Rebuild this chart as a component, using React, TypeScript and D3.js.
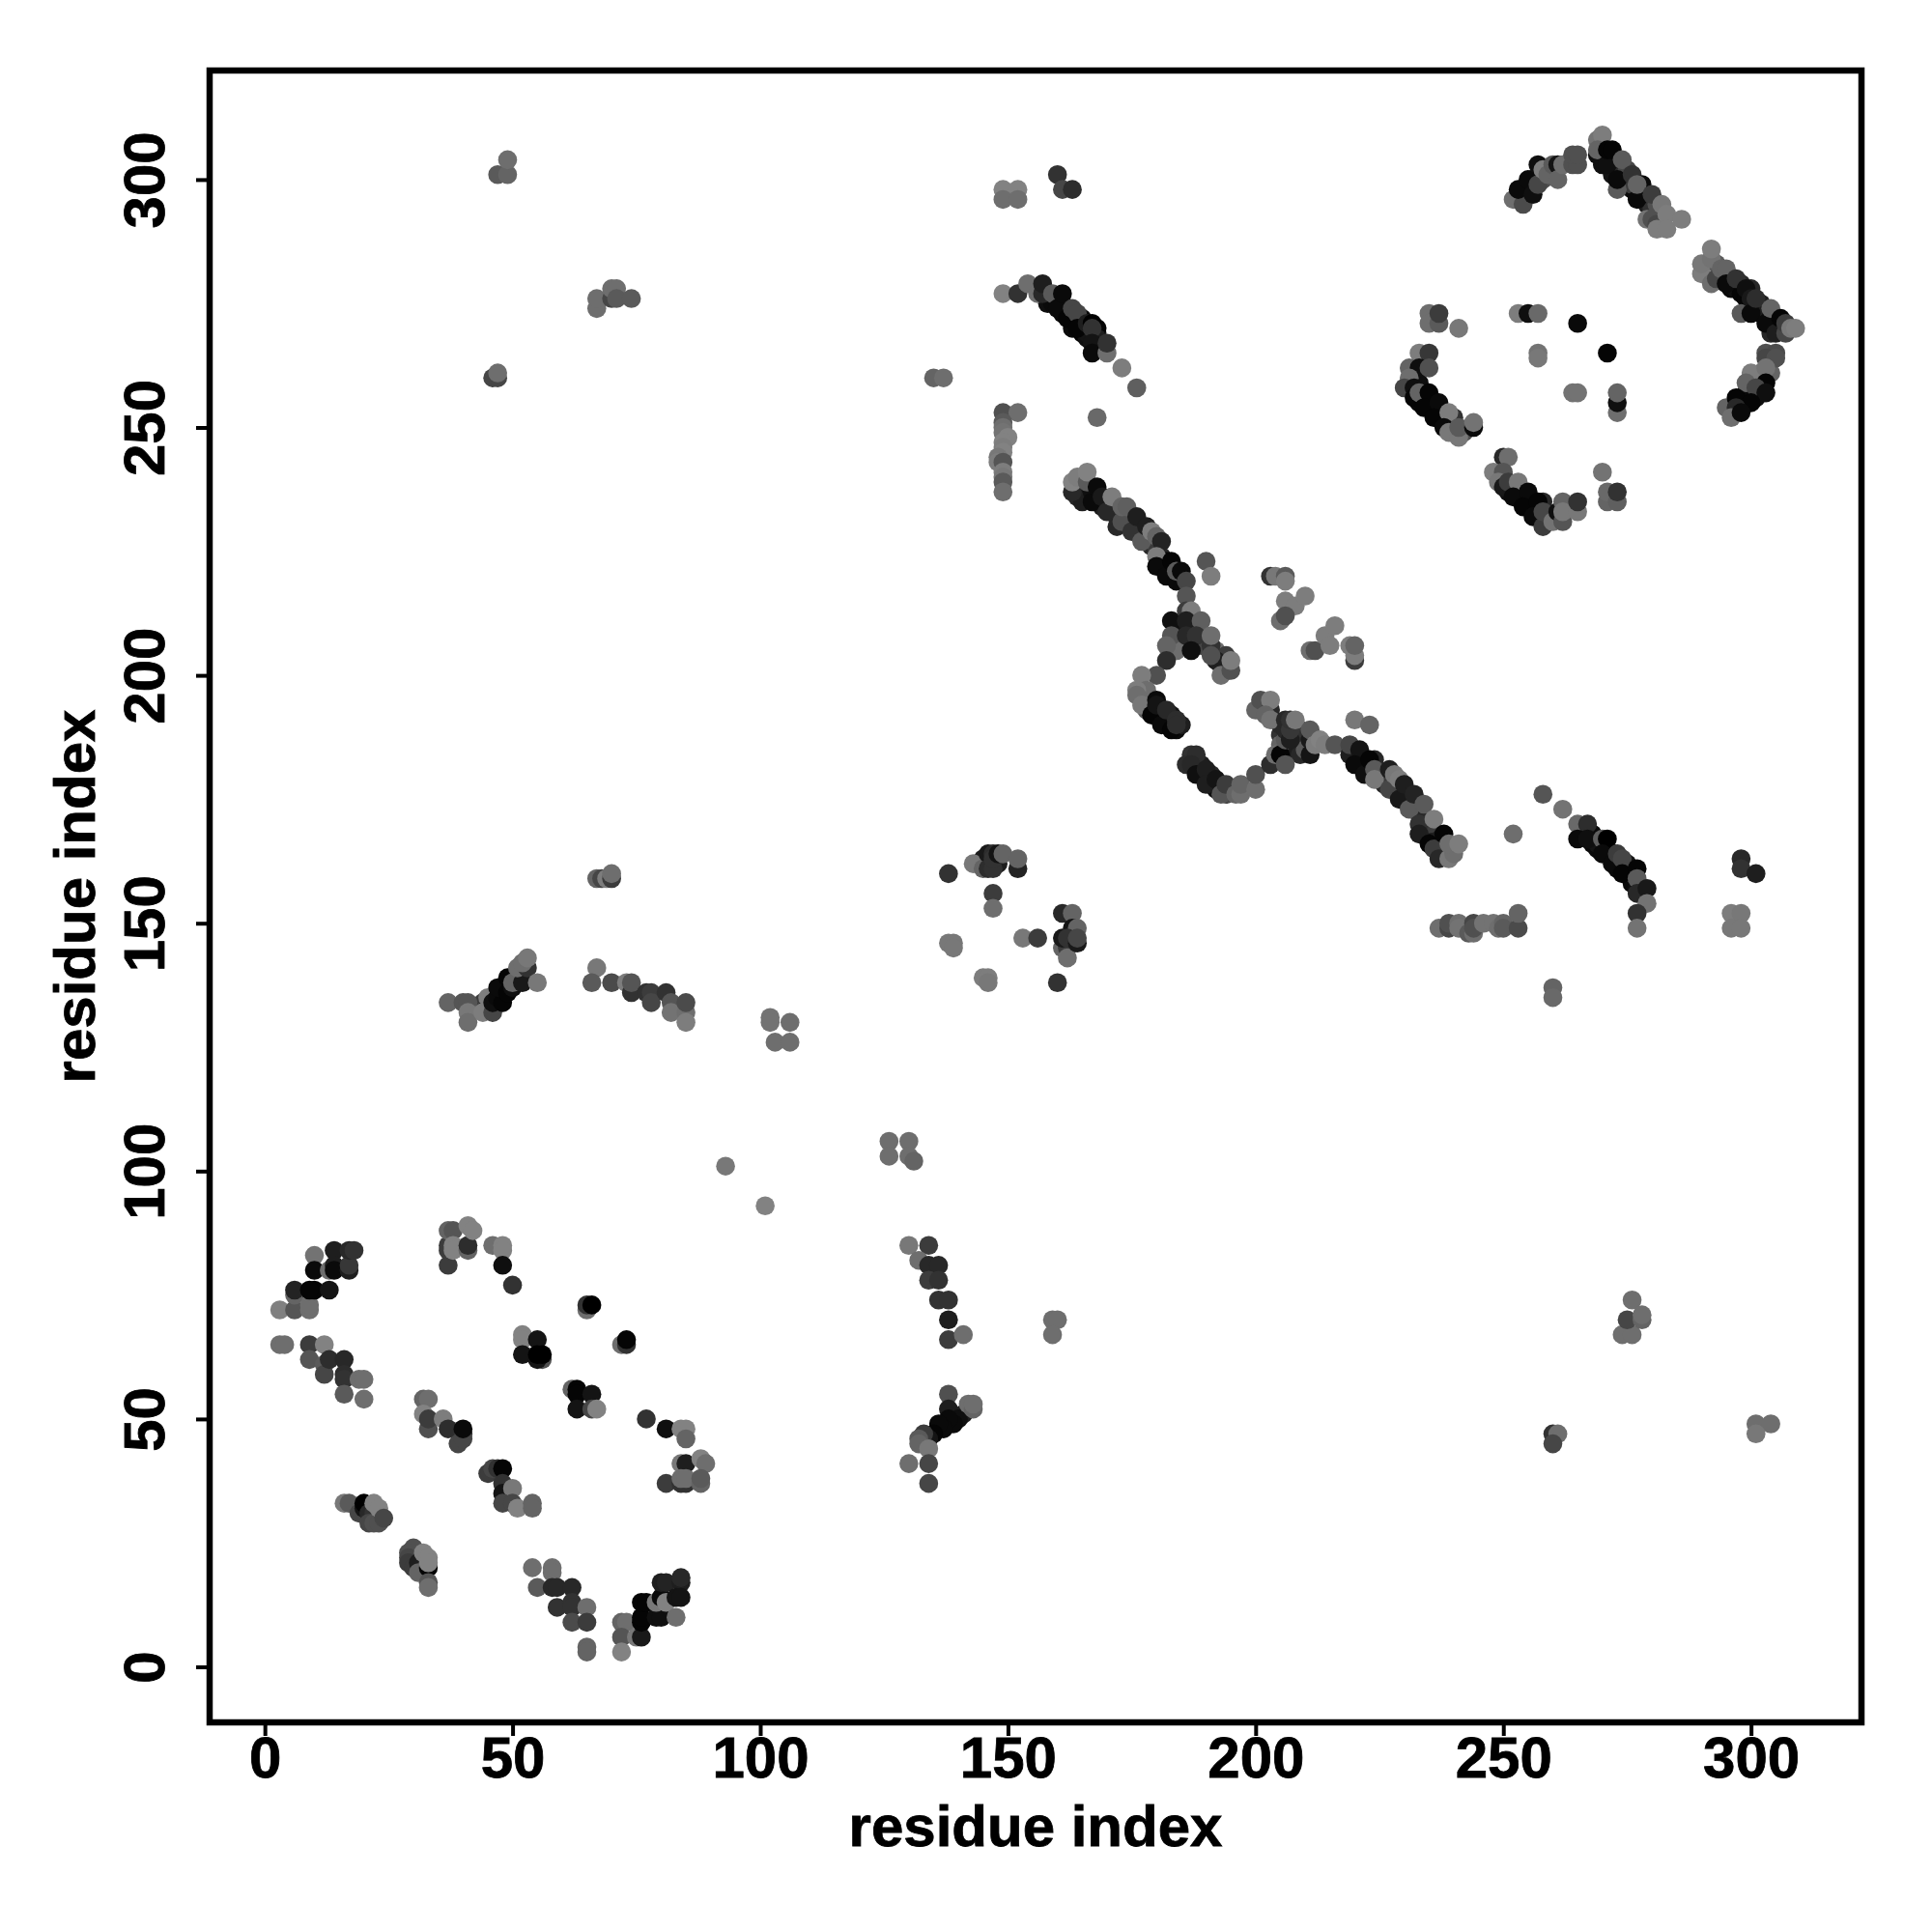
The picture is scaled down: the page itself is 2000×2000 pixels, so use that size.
import React, { useEffect, useRef } from 'react';
import * as d3 from 'd3';

type Contact = [number, number, number]; // residue i, residue j, level (0 = darkest)

const tickValues = [0, 50, 100, 150, 200, 250, 300];
const axisLabel = 'residue index';

// dense runs along the long bands, these sit underneath everything else
const bandTopRight: Contact[] = [
  [270,305,10],[270,303,15],[272,303,10],[272,301,20],[274,302,40],[274,300,20],[275,299,15],[275,302,70],[276,298,10],[276,299,60],[278,296,15],[278,297,40],[279,295,30],[279,297,35],[280,294,50],[281,293,60],[282,292,90],[281,295,80],
  [293,283,90],[294,280,40],[295,281,70],[296,278,10],[296,280,30],[297,278,15],[298,279,40],[298,277,5],[299,276,5],[300,278,40],[301,274,10],[302,275,30],[302,273,5],[303,273,30],[304,272,15],[305,271,20],[305,272,60],[306,270,20],[304,269,40],
  [299,257,20],[299,256,10],[298,255,10],[301,256,15],[302,258,40],[301,260,90],[302,261,100],[304,261,100],
  [254,298,10],[255,297,15],[253,296,60],[256,299,30],[257,301,40],[258,300,80],
];
const bandBarrel: Contact[] = [
  [233,259,15],[233,255,10],[235,255,5],[236,254,15],[237,252,10],[238,253,5],[239,251,15],[240,250,20],[240,252,50],[242,249,80],
  [251,237,15],[252,238,30],[253,236,10],[254,237,20],[255,235,10],[256,235,15],[256,234,5],[257,233,10],[258,235,40],[259,232,60],
];
const bandFirst: Contact[] = [
  [158,275,15],[159,275,10],[160,276,20],[161,275,5],[161,273,10],[162,274,15],[163,272,5],[163,270,10],[165,272,10],[165,269,5],[166,268,15],[166,269,20],[168,269,30],[168,270,5],[168,268,30],
  [164,236,40],[165,238,20],[165,235,30],[167,237,15],[168,236,20],[169,234,30],[170,235,40],[171,233,30],[172,232,50],[172,230,40],[174,231,40],[175,232,60],[176,229,50],[177,230,40],[178,228,30],[179,226,40],[180,226,60],[181,224,40],[181,222,10],[183,221,5],[185,219,5],[182,223,10],
  [184,209,20],[185,207,60],[185,206,30],[186,206,40],[187,209,30],[188,206,50],[189,208,40],[189,206,70],[190,207,70],[192,205,110],[193,202,100],[194,204,60],[194,202,80],[184,207,70],
  [181,192,15],[182,191,5],[183,190,10],[183,192,20],[184,189,10],[185,190,30],[178,195,70],[179,194,60],[178,193,90],
];
const bandSecond: Contact[] = [
  [189,182,30],[189,180,20],[191,178,20],[191,180,40],[193,178,50],[194,176,70],[192,177,15],
  [205,188,50],[205,190,40],[206,186,40],[207,185,70],[208,188,40],[208,185,30],[209,189,60],[209,187,50],[205,186,100],[209,184,40],[210,185,90],
  [220,184,20],[222,183,30],[223,181,10],[224,183,40],[225,180,40],[226,180,30],[226,178,40],[227,179,60],[228,177,60],[229,176,30],[230,176,60],[231,175,50],[232,173,40],[233,172,60],[234,171,40],[234,169,20],[235,169,30],[236,168,20],[236,166,20],[237,167,30],[237,165,10],[235,170,60],
  [268,168,10],[268,166,10],[269,165,10],[269,166,20],[271,165,15],[272,164,40],[273,161,10],[275,162,20],[275,160,10],[276,158,10],[276,160,40],[277,157,15],[278,157,20],
  [44,134,60],[45,133,30],[46,135,10],[47,134,10],[48,136,10],[48,137,10],[49,138,20],[50,139,15],[51,139,30],[51,140,70],[52,140,60],
  [145,163,30],[145,162,60],[148,162,30],
];

const nTermHelix: Contact[] = [
  [3,72,128],[6,72,85],[6,75,100],[6,76,35],[9,72,110],[9,73,110],[10,83,115],[10,80,10],[10,76,5],[9,76,5],[13,76,20],[13,80,110],
  [14,84,30],[14,81,30],[14,80,10],[17,80,30],[17,81,55],[17,84,40],[18,84,50],
  [3,65,110],[4,65,110],[9,65,60],[12,65,130],[9,62,85],[12,61,90],[12,59,70],[13,62,45],[16,62,40],[16,59,45],[16,58,50],[16,55,90],[19,58,110],[20,58,110],[20,54,110],
];
const upperLeftPatch: Contact[] = [
  [37,81,60],[37,85,60],[37,84,60],[37,88,100],[38,88,85],[38,85,130],[38,84,130],[41,84,100],[41,85,45],[41,89,130],[42,88,130],
  [46,85,110],[48,85,130],[48,84,130],[48,81,15],[50,77,50],
  [65,72,110],[65,73,50],[66,73,0],[52,67,130],[52,66,130],[55,66,20],[52,63,20],[56,62,80],[55,62,20],[55,63,0],[56,63,0],
  [72,65,110],[73,65,50],[73,66,5],
  [62,56,100],[63,56,5],[63,55,5],[66,55,20],[63,52,20],[66,52,70],[67,52,130],
  [77,50,50],[81,48,15],[84,48,130],[85,48,130],[85,46,100],
  [84,41,120],[85,41,30],[88,42,130],[89,41,110],[81,37,60],[84,37,50],[85,37,50],[84,38,110],[85,38,110],[88,37,100],[88,38,90],
];
const middleStrand: Contact[] = [
  [32,54,100],[33,54,110],[32,51,130],[33,48,80],[33,50,60],[36,50,125],[37,48,45],[39,45,70],[40,47,50],[40,46,70],[40,48,10],
  [45,39,60],[46,40,70],[47,40,50],[48,40,5],[48,37,50],[48,35,20],[50,36,120],[48,33,70],[50,33,70],[51,32,130],[54,33,100],[54,32,100],
];
const lowerStrands: Contact[] = [
  [16,33,120],[17,33,90],[19,31,70],[20,32,20],[20,33,0],[21,31,40],[22,31,50],[21,29,70],[22,29,80],[23,29,80],[22,33,130],[23,32,130],[24,30,70],
  [30,24,80],[29,23,80],[29,22,70],[29,21,60],[30,20,60],[31,21,30],[31,19,100],[33,20,5],[32,23,130],[33,22,130],[33,21,130],[33,17,85],[33,16,110],
  [54,20,110],[58,20,110],[58,19,110],[55,16,90],[58,16,40],[59,16,40],[62,16,40],[59,12,50],[62,13,50],[62,12,50],[65,12,110],[62,9,75],[65,9,60],[65,4,100],[65,3,100],
  [72,9,100],[73,9,110],[72,6,85],[72,3,130],[75,6,120],[76,6,25],[76,9,5],[76,10,5],[76,13,5],[77,13,5],[79,10,15],[80,10,15],[79,13,120],[80,14,10],[81,13,130],
  [80,17,30],[81,17,35],[84,17,30],[84,18,40],[83,14,20],[84,14,20],[83,10,110],
];
const leftIslands: Contact[] = [
  [47,301,90],[49,301,100],[49,304,110],[46,260,70],[47,260,70],[47,261,110],
  [67,274,110],[67,276,110],[70,276,70],[70,278,110],[71,278,110],[71,276,90],[74,276,90],
  [67,159,100],[68,159,70],[69,159,125],[70,159,60],[70,160,110],
  [37,134,100],[40,134,85],[41,134,85],[41,132,120],[41,130,110],[44,132,125],[45,135,125],[46,132,70],[46,134,15],[47,135,10],[48,134,5],[47,137,10],[49,136,5],[49,139,5],
  [50,137,15],[50,138,100],[52,138,25],[51,141,110],[53,141,50],[52,142,110],[53,143,120],[55,138,120],
  [67,141,120],[66,138,90],[70,138,75],[73,138,125],[74,136,50],[74,138,85],[77,136,50],[78,136,60],[78,134,70],[81,136,50],[82,134,85],[82,132,115],[85,132,110],[85,134,75],[85,130,125],
  [102,131,115],[102,130,115],[106,130,110],[103,126,110],[106,126,110],[93,101,120],[101,93,130],
  [126,106,110],[130,106,110],[126,103,110],[130,103,110],[131,102,100],
];
const centralColumn: Contact[] = [
  [130,85,120],[134,85,60],[132,82,110],[134,81,40],[136,81,40],[134,78,60],[136,78,50],[136,74,50],[138,74,50],[138,70,30],[138,66,60],[141,67,110],
  [159,70,110],[160,70,110],[159,67,110],
  [138,55,80],[138,52,30],[141,51,30],[140,50,15],[139,49,10],[138,50,10],[137,48,10],[136,49,10],[135,47,5],[134,46,20],[133,47,60],[132,46,90],[132,45,100],[134,44,120],
  [130,41,110],[134,41,70],[134,37,70],[142,53,110],[143,52,100],[143,53,110],
  [135,260,100],[137,260,110],
];
const topMiddle: Contact[] = [
  [149,298,130],[152,298,130],[149,296,110],[152,296,110],[160,301,50],[161,298,70],[163,298,45],
  [149,277,130],[152,277,50],[154,279,110],[156,277,110],[157,277,40],[157,279,30],[159,277,90],[160,274,10],[162,272,5],[161,277,10],[163,274,70],[164,273,70],
  [164,270,5],[166,271,30],[167,271,0],[167,270,50],[167,267,20],[167,265,10],[170,265,110],[170,267,50],[173,262,125],[176,258,95],[168,252,105],
  [149,253,80],[152,253,110],[149,251,90],[149,250,110],[149,249,115],[150,248,130],[149,247,130],[149,246,125],[149,245,130],[148,244,120],[148,243,125],[149,243,85],[149,241,125],[149,240,120],[149,239,90],[149,237,110],
];
const centerLoop: Contact[] = [
  [138,160,50],[143,162,120],[145,161,100],[146,164,25],[147,164,45],[146,161,45],[147,161,50],[147,163,50],[148,164,20],[149,164,100],[152,161,35],[152,163,100],[147,156,60],[147,153,110],
  [161,152,40],[163,152,100],[163,149,20],[164,149,100],[161,145,100],[162,145,60],[162,143,110],[161,147,25],[162,147,50],[164,146,25],[164,147,70],
  [153,147,120],[156,147,60],[138,146,120],[139,146,120],[139,145,120],[145,139,125],[146,139,125],[146,138,120],[160,138,50],
];
const firstDiagonal: Contact[] = [
  [163,237,40],[163,239,130],[164,240,125],[166,239,90],[166,241,130],[167,235,10],[168,238,10],[169,236,25],[170,233,40],[171,236,125],[173,231,80],[173,234,100],[174,234,95],
  [175,229,50],[176,232,30],[177,227,90],[178,230,30],[179,229,125],[180,228,100],[181,227,35],[180,224,125],[180,222,10],[182,220,10],[183,223,5],[184,219,10],[184,221,90],[185,221,10],[186,219,70],
  [190,223,85],[191,220,125],
  [183,211,15],[186,216,85],[186,213,60],[187,213,125],[186,211,30],[189,211,95],[183,205,5],[184,205,110],[183,208,85],[186,208,40],[188,208,50],[187,205,15],[191,206,50],[191,208,110],
  [182,206,100],[182,203,45],[180,200,80],[177,200,125],[178,197,110],[176,197,125],[176,196,110],[177,194,120],[179,192,5],[180,195,10],[180,194,20],[181,190,10],[183,189,5],[182,193,40],[184,191,45],[184,190,45],
  [192,203,30],[191,204,80],[193,200,110],[195,201,80],[195,203,125],
];
const outerIslands: Contact[] = [
  [203,220,50],[204,220,120],[206,220,90],[206,219,125],[206,215,125],[208,214,125],[210,216,125],[205,211,110],[206,212,80],
  [211,205,110],[212,205,80],[214,208,125],[215,206,125],[216,210,125],[219,206,125],[220,203,60],[220,204,125],[220,206,100],
];
const secondDiagonal: Contact[] = [
  [187,184,50],[188,184,45],[186,182,45],[187,182,40],[188,180,15],[190,181,30],[190,178,30],[192,179,20],[193,176,85],[194,178,60],[196,176,100],[197,176,110],[197,178,100],
  [200,177,110],[200,180,80],[203,182,45],[204,184,110],[205,184,5],[206,182,85],
  [200,193,100],[201,195,80],[203,193,40],[203,195,125],[202,192,100],[203,191,115],[206,187,90],[206,189,40],[206,191,40],[207,187,30],[207,189,55],[207,191,50],[208,191,120],
  [211,184,20],[211,187,25],[211,189,90],[212,186,125],[213,187,130],[214,186,125],[216,186,85],
  [220,191,120],[223,190,100],[219,184,30],[219,186,70],[221,185,20],[220,182,10],[222,180,15],[223,183,5],[224,181,90],[224,179,120],[227,177,70],[227,181,30],[228,180,120],[229,179,125],
  [229,175,25],[230,178,30],[231,173,90],[232,176,35],[233,170,50],[233,168,30],[234,174,90],[235,166,5],[236,165,60],[236,171,125],[238,168,5],[237,163,40],[239,163,120],[240,164,110],[239,166,110],[241,166,125],
];
const rightArc: Contact[] = [
  [258,176,85],[262,173,115],[252,168,110],[265,170,105],[267,170,45],[265,167,10],[267,167,15],[270,167,95],[271,167,0],[270,164,10],[272,162,10],[273,164,60],[274,163,70],[274,160,5],
  [277,161,5],[277,159,90],[277,156,40],[279,157,25],[279,154,115],[277,152,50],[277,149,115],
  [237,149,110],[239,149,70],[239,150,80],[241,150,110],[241,149,115],[243,148,90],[244,148,110],[244,150,70],[244,149,80],[246,150,115],[248,150,115],[249,149,110],[250,150,100],[250,149,90],[253,149,75],[253,152,100],
  [260,137,100],[260,135,105],[296,152,125],[296,149,120],[298,152,120],[298,149,120],[298,163,40],[298,161,50],[301,160,30],
  [260,47,50],[261,47,110],[260,45,70],[301,49,110],[304,49,110],[301,47,120],
  [274,67,110],[276,67,110],[276,74,110],[275,70,70],[278,70,100],[278,71,110],
];
const barrelLeft: Contact[] = [
  [235,273,110],[235,271,110],[237,271,90],[237,273,60],[241,270,120],[253,273,125],[255,273,15],[257,273,105],[265,271,10],[271,265,5],[257,265,115],[257,264,120],[264,257,115],[265,257,115],
  [273,253,110],[273,255,15],[273,257,100],
  [233,265,125],[235,265,55],[231,262,100],[233,262,15],[235,262,80],[231,260,110],[230,258,70],[232,258,15],[232,256,5],[233,257,100],[235,257,5],[234,254,5],[237,255,10],[236,252,5],[239,253,125],
  [238,250,10],[239,249,120],[241,248,120],[241,250,90],[244,250,10],[244,251,115],
];
const barrelLower: Contact[] = [
  [250,244,40],[251,244,110],[248,241,125],[250,241,85],[249,239,120],[250,238,25],[251,239,60],[253,239,120],[252,236,10],[255,237,10],[254,234,5],[257,235,5],[256,232,10],[258,230,60],[258,233,70],
  [260,231,115],[261,233,15],[262,231,85],[262,235,100],[262,233,120],[265,233,120],[265,235,50],
  [270,241,115],[271,235,100],[271,237,105],[273,235,95],[273,237,50],
];
const topRight: Contact[] = [
  [252,296,110],[254,295,75],[253,298,10],[255,300,10],[256,297,15],[257,303,15],[257,299,70],[258,302,125],[259,301,100],[260,303,90],[261,303,20],[261,300,100],[262,303,110],[264,303,80],[265,303,80],[264,305,80],[265,305,80],
  [269,308,115],[270,309,125],[269,305,15],[269,306,100],[271,303,15],[271,306,5],[272,306,5],[273,298,90],[273,300,10],[274,304,90],[276,301,50],[277,296,10],[278,299,10],[277,299,100],[280,297,60],
  [279,292,115],[280,292,80],[281,291,70],[281,290,125],[282,295,120],[283,293,125],[283,290,125],[286,292,125],
  [290,281,125],[290,283,120],[292,279,110],[292,284,115],[292,286,125],[293,280,70],[294,282,100],[295,282,100],[295,279,10],[297,280,50],[298,273,90],[299,278,15],[300,276,25],[300,273,10],[301,276,45],
  [303,271,10],[304,274,100],[305,269,30],[306,272,5],[307,269,70],[307,271,60],[308,270,120],[309,270,125],
  [303,265,80],[305,265,75],[303,264,70],[305,264,80],[300,261,125],[303,262,115],[303,259,5],[299,259,100],[301,258,70],[303,257,15],[295,254,100],[297,256,5],[300,255,5],[297,254,40],[296,252,110],[298,253,10],
];

const contacts: Contact[] = [
  ...bandTopRight, ...bandBarrel, ...bandFirst, ...bandSecond,
  ...nTermHelix, ...upperLeftPatch, ...middleStrand, ...lowerStrands, ...leftIslands, ...centralColumn, ...topMiddle,
  ...centerLoop, ...firstDiagonal, ...outerIslands, ...secondDiagonal, ...rightArc, ...barrelLeft, ...barrelLower, ...topRight,
];

const App: React.FC = () => {
  const svgRef = useRef<SVGSVGElement>(null);

  useEffect(() => {
    if (!svgRef.current) return;
    const svg = d3.select(svgRef.current);
    svg.selectAll('*').remove();

    const box = { left: 217, right: 1927, top: 73, bottom: 1783 };
    const xScale = d3.scaleLinear().domain([-11.15, 322.3]).range([box.left, box.right]);
    const yScale = d3.scaleLinear().domain([-11.2, 322]).range([box.bottom, box.top]);
    const shade = d3.scaleLinear<string>().domain([0, 130]).range(['#000000', '#828282']);

    svg.append('rect').attr('width', 2000).attr('height', 2000).attr('fill', '#ffffff');

    svg.append('g')
      .selectAll('circle')
      .data(contacts)
      .enter().append('circle')
      .attr('cx', d => xScale(d[0]))
      .attr('cy', d => yScale(d[1]))
      .attr('r', 9.8)
      .attr('fill', d => shade(d[2]));

    const fontFamily = '"Liberation Sans", Arial, sans-serif';
    const heavyText = (sel: any) => sel
      .attr('fill', '#000')
      .attr('stroke', '#000')
      .attr('stroke-width', 0.8)
      .style('font-family', fontFamily)
      .style('font-weight', 'bold')
      .style('font-size', '60px');

    const xAxis = svg.append('g')
      .attr('transform', `translate(0,${box.bottom})`)
      .call(d3.axisBottom(xScale).tickValues(tickValues).tickSize(14).tickPadding(7).tickFormat(d3.format('d') as any));
    const yAxis = svg.append('g')
      .attr('transform', `translate(${box.left},0)`)
      .call(d3.axisLeft(yScale).tickValues(tickValues).tickSize(14).tickFormat(d3.format('d') as any));

    [xAxis, yAxis].forEach(axis => {
      axis.select('.domain').remove();
      axis.selectAll('line').attr('stroke', '#000').attr('stroke-width', 4);
      heavyText(axis.selectAll('text'));
    });

    xAxis.selectAll('text').attr('dy', null).attr('y', 1840 - box.bottom);
    yAxis.selectAll('text').attr('dy', null)
      .attr('transform', `translate(${170 - box.left},0) rotate(-90)`)
      .attr('x', 0).attr('y', 0)
      .style('text-anchor', 'middle');

    svg.append('rect')
      .attr('x', box.left).attr('y', box.top)
      .attr('width', box.right - box.left).attr('height', box.bottom - box.top)
      .attr('fill', 'none').attr('stroke', '#000').attr('stroke-width', 6.5);

    heavyText(svg.append('text')
      .attr('x', 1072).attr('y', 1911)
      .attr('text-anchor', 'middle')
      .text(axisLabel));

    heavyText(svg.append('text')
      .attr('transform', 'translate(98,928) rotate(-90)')
      .attr('text-anchor', 'middle')
      .text(axisLabel));
  }, []);

  return <svg ref={svgRef} width={2000} height={2000} style={{ position: 'absolute', left: 0, top: 0 }} />;
};

export default App;
